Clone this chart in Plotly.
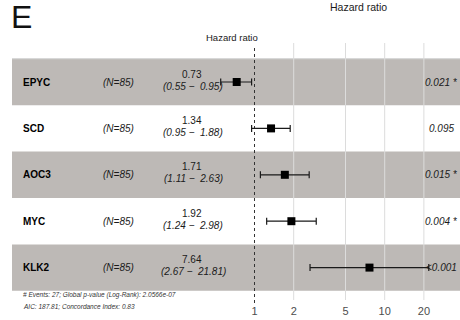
import plotly.graph_objects as go

# Cox model results, one row per gene
genes = ["EPYC", "SCD", "AOC3", "MYC", "KLK2"]
n_obs = [85, 85, 85, 85, 85]
hr = [0.73, 1.34, 1.71, 1.92, 7.64]
ci_low = [0.55, 0.95, 1.11, 1.24, 2.67]
ci_high = [0.95, 1.88, 2.63, 2.98, 21.81]
p_labels = ["0.021 *", "0.095", "0.015 *", "0.004 *", "<0.001"]
tick_vals = [1, 2, 5, 10, 20]
footer = ["# Events: 27; Global p-value (Log-Rank): 2.0566e-07",
          "AIC: 187.81; Concordance Index: 0.83"]

W, H_TOTAL = 460, 320
B = 17
H = H_TOTAL - B
ROW_TOP = 82.0      # pixel centre of the first row
ROW_H = 46.4        # row pitch in pixels
X1_PX = 254.5       # pixel of HR = 1
DECADE_PX = 130.2   # pixels per log10 decade

FONT = "Liberation Sans, Arial, sans-serif"
BAND = "#bdb9b6"
GRID = "#dcdcdc"


def px_y(p):
    """pixel row -> paper y"""
    return 1 - p / H


def px_x(p):
    return p / W


def row_y(p):
    """pixel row -> data y (row index)"""
    return (p - ROW_TOP) / ROW_H


x_range = [(0 - X1_PX) / DECADE_PX, (W - X1_PX) / DECADE_PX]
y_range = [row_y(H), row_y(0)]
rows = list(range(len(genes)))

fig = go.Figure()
fig.add_trace(go.Scatter(
    x=hr, y=rows, mode="markers",
    marker=dict(symbol="square", size=8, color="black"),
    error_x=dict(type="data", symmetric=False,
                 array=[h - v for h, v in zip(ci_high, hr)],
                 arrayminus=[v - l for v, l in zip(hr, ci_low)],
                 color="#1a1a1a", thickness=1.2, width=3.5),
    hoverinfo="skip", showlegend=False, cliponaxis=False,
))

shapes = []
# alternating row bands
for i in rows:
    if i % 2 == 0:
        shapes.append(dict(type="rect", xref="paper", yref="y",
                           x0=px_x(12), x1=1, y0=i - 0.5, y1=i + 0.5,
                           fillcolor=BAND, line=dict(width=0), layer="below"))
# top rule
shapes.append(dict(type="line", xref="paper", yref="y", x0=px_x(12), x1=1,
                   y0=-0.5, y1=-0.5, line=dict(color="#cfcfcf", width=1),
                   layer="below"))
# vertical grid lines
for v in tick_vals[1:]:
    shapes.append(dict(type="line", xref="x", yref="paper", x0=v, x1=v,
                       y0=px_y(300), y1=px_y(43),
                       line=dict(color=GRID, width=1), layer="below"))
# reference line at HR = 1
shapes.append(dict(type="line", xref="x", yref="paper", x0=1, x1=1,
                   y0=px_y(303), y1=px_y(47),
                   line=dict(color="#333333", width=1, dash="dot"),
                   layer="below"))

ann = []
for i in rows:
    ann.append(dict(x=px_x(21), y=i, xref="paper", yref="y", text=f"<b>{genes[i]}</b>",
                    xanchor="left", yanchor="middle", showarrow=False,
                    font=dict(family=FONT, size=10, color="black")))
    ann.append(dict(x=px_x(118), y=i, xref="paper", yref="y", text=f"<i>(N={n_obs[i]})</i>",
                    xanchor="center", yanchor="middle", showarrow=False,
                    font=dict(family=FONT, size=10, color="#1a1a1a")))
    ann.append(dict(x=px_x(192), y=i - 8 / ROW_H, xref="paper", yref="y", text=f"{hr[i]:.2f}",
                    xanchor="center", yanchor="middle", showarrow=False,
                    font=dict(family=FONT, size=10, color="#1a1a1a")))
    ann.append(dict(x=px_x(193), y=i + 4 / ROW_H, xref="paper", yref="y",
                    text=f"<i>({ci_low[i]:.2f} \u2212  {ci_high[i]:.2f})</i>",
                    xanchor="center", yanchor="middle", showarrow=False,
                    font=dict(family=FONT, size=10, color="#1a1a1a")))
    ann.append(dict(x=px_x(441), y=i, xref="paper", yref="y", text=f"<i>{p_labels[i]}</i>",
                    xanchor="center", yanchor="middle", showarrow=False,
                    font=dict(family=FONT, size=10, color="#1a1a1a")))

ann.append(dict(x=px_x(232), y=px_y(37), xref="paper", yref="paper", text="Hazard ratio",
                xanchor="center", yanchor="middle", showarrow=False,
                font=dict(family=FONT, size=9.5, color="#1a1a1a")))
ann.append(dict(x=px_x(358), y=px_y(7), xref="paper", yref="paper", text="Hazard ratio",
                xanchor="center", yanchor="middle", showarrow=False,
                font=dict(family=FONT, size=10.5, color="#1a1a1a")))
ann.append(dict(x=px_x(9), y=px_y(17), xref="paper", yref="paper", text="E",
                xanchor="left", yanchor="middle", showarrow=False,
                font=dict(family=FONT, size=32, color="#111111")))
for k, line in enumerate(footer):
    ann.append(dict(x=px_x(21), y=px_y(295 + 11 * k), xref="paper", yref="paper",
                    text=f"<i>{line}</i>", xanchor="left", yanchor="middle",
                    showarrow=False, font=dict(family=FONT, size=6.5, color="#333333")))

fig.update_layout(
    width=W, height=H_TOTAL,
    margin=dict(l=0, r=0, t=0, b=B, pad=0),
    paper_bgcolor="white", plot_bgcolor="white",
    shapes=shapes, annotations=ann,
    xaxis=dict(type="log", range=x_range, tickvals=tick_vals,
               ticktext=[str(v) for v in tick_vals],
               showgrid=False, zeroline=False, showline=False, ticks="",
               tickfont=dict(family=FONT, size=11, color="#4d4d4d"),
               fixedrange=True),
    yaxis=dict(range=y_range, showgrid=False, zeroline=False, showline=False,
               showticklabels=False, ticks="", fixedrange=True),
)

fig.write_html("out.html", config={"displayModeBar": False})
